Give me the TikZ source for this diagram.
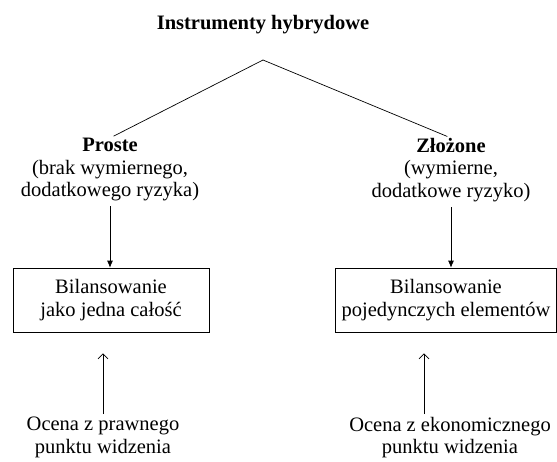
\documentclass[tikz,border=0pt]{standalone}
\usepackage{fontspec}
\setmainfont{Liberation Serif}
\usepackage{tikz}
\usetikzlibrary{positioning,arrows.meta}

\begin{document}
\begin{tikzpicture}[x=1pt, y=-1pt,
        font=\fontsize{20.5}{22.5}\selectfont,
        label/.style={align=center, inner sep=0pt},
        kind/.style={align=center, inner sep=0pt, anchor=north},
        box/.style={rectangle, draw=black, line width=0.7pt, align=center, minimum height=64pt},
        line/.style={draw=black, line width=0.7pt},
        down/.style={line, -{Latex[length=7pt, width=6pt]}},
        up/.style={line, -{Straight Barb[length=5pt, width=10pt, line width=0.7pt]}}
    ]
        \useasboundingbox (0,0) rectangle (557,461);

        % Title
        \node[label] (title) at (263,25) {\textbf{Instrumenty hybrydowe}};
        \coordinate (apex) at (263,60);

        % Kinds
        \node[kind] (proste) at (110,138) {\textbf{Proste}\\(brak wymiernego,\\dodatkowego ryzyka)};
        \node[kind] (zlozone) at (451,138) {\textbf{Złożone}\\(wymierne,\\dodatkowe ryzyko)};
        \draw[line, shorten >=4pt] (apex) -- (proste.north);
        \draw[line, shorten >=4pt] (apex) -- (zlozone.north);

        % Balancing
        \node[box, minimum width=196pt] (bil1) at (111,300) {Bilansowanie\\jako jedna całość};
        \node[box, minimum width=221pt] (bil2) at (446,300) {Bilansowanie\\pojedynczych elementów};
        \draw[down, shorten <=5pt] (proste.south) -- (proste.south |- bil1.north);
        \draw[down, shorten <=5pt] (zlozone.south) -- (zlozone.south |- bil2.north);

        % Assessment
        \node[kind] (ocena1) at (103,417) {Ocena z prawnego\\punktu widzenia};
        \node[kind] (ocena2) at (450,417) {Ocena z ekonomicznego\\punktu widzenia};
        \draw[up, shorten <=3pt, shorten >=21pt] (ocena1.north) -- (ocena1.north |- bil1.south);
        \draw[up, shorten <=3pt, shorten >=21pt] ([xshift=-26pt]ocena2.north) -- ([xshift=-26pt]ocena2.north |- bil2.south);

    \end{tikzpicture}
\end{document}
